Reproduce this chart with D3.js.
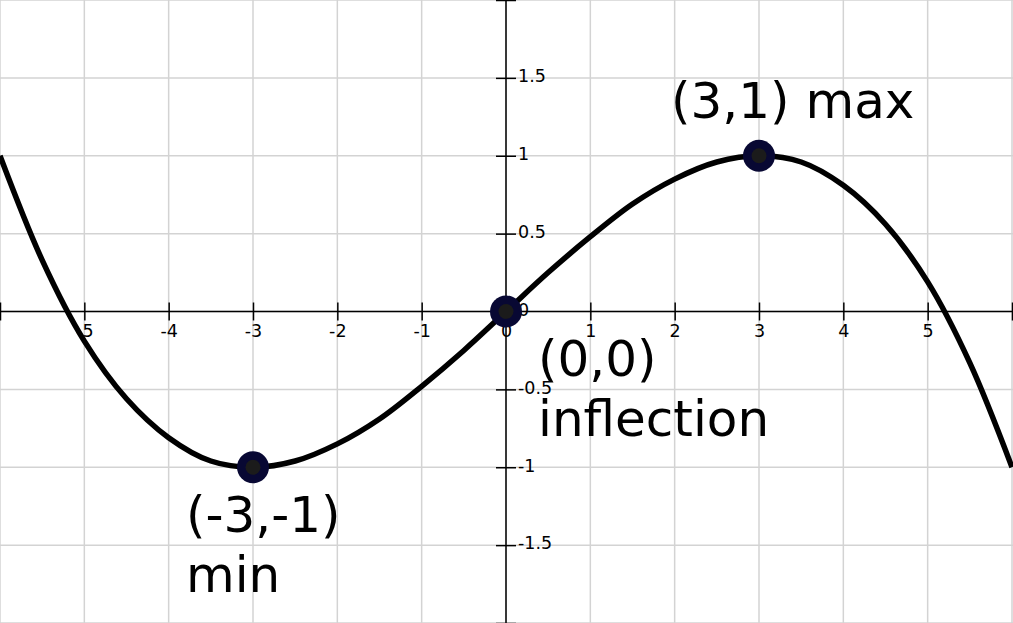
<!DOCTYPE html>
<html>
<head>
<meta charset="utf-8">
<script src="https://cdn.jsdelivr.net/npm/d3@7"></script>
<style>
  html, body { margin: 0; padding: 0; background: #fff; }
  svg { display: block; }
  text { font-family: "DejaVu Sans", sans-serif; }
</style>
</head>
<body>
<svg id="chart" width="1013" height="623"></svg>
<script>
// ---- data ----
const curveX = [-6, -5.5, -5, -4.5, -4, -3.5, -3, -2.5, -2, -1.5, -1, -0.5, 0,
                0.5, 1, 1.5, 2, 2.5, 3, 3.5, 4, 4.5, 5, 5.5, 6];
const curveY = [1, 0.33, -0.19, -0.56, -0.81, -0.96, -1, -0.96, -0.85, -0.69, -0.48, -0.25, 0,
                0.25, 0.48, 0.69, 0.85, 0.96, 1, 0.96, 0.81, 0.56, 0.19, -0.33, -1];

const pointX = [3, 0, -3];
const pointY = [1, 0, -1];
const pointLabels = [["(3,1) max"], ["(0,0)", "inflection"], ["(-3,-1)", "min"]];

const xTicks = [-6, -5, -4, -3, -2, -1, 0, 1, 2, 3, 4, 5, 6];
const xTickLabels = ["", "-5", "-4", "-3", "-2", "-1", "0", "1", "2", "3", "4", "5", ""];
const yTicks = [-2, -1.5, -1, -0.5, 0, 0.5, 1, 1.5, 2];
const yTickLabels = ["", "-1.5", "-1", "-0.5", "0", "0.5", "1", "1.5", ""];

// ---- layout ----
const W = 1013, H = 623;
const svg = d3.select("#chart");
const x = d3.scaleLinear().domain([-6, 6]).range([0, 1012]);
const y = d3.scaleLinear().domain([-2, 2]).range([623, 0]);

// grid
const grid = svg.append("g");
grid.selectAll("line.v").data(xTicks).join("line")
  .attr("x1", d => x(d)).attr("x2", d => x(d))
  .attr("y1", 0).attr("y2", H)
  .attr("stroke", "#d3d3d3").attr("stroke-width", 1.5);
grid.selectAll("line.h").data(yTicks).join("line")
  .attr("x1", 0).attr("x2", W)
  .attr("y1", d => y(d)).attr("y2", d => y(d))
  .attr("stroke", "#d3d3d3").attr("stroke-width", 1.5);

// x axis through y=0
const xAxis = d3.axisBottom(x).tickValues(xTicks).tickSize(9).tickSizeOuter(0)
  .tickFormat((d, i) => xTickLabels[i]);
const gx = svg.append("g").attr("transform", `translate(0,${y(0)})`).call(xAxis);
gx.select(".domain").attr("d", `M0,0H${W}`).attr("stroke", "#000").attr("stroke-width", 1.5);
gx.selectAll(".tick line").attr("y1", -9).attr("y2", 9).attr("stroke", "#000").attr("stroke-width", 1.5);
gx.selectAll(".tick text").attr("y", 0).attr("dy", 25).attr("font-size", 17.5)
  .attr("font-family", "DejaVu Sans").attr("fill", "#000");

// y axis through x=0
const yAxis = d3.axisRight(y).tickValues(yTicks).tickSize(10).tickSizeOuter(0)
  .tickFormat((d, i) => yTickLabels[i]);
const gy = svg.append("g").attr("transform", `translate(${x(0)},0)`).call(yAxis);
gy.select(".domain").attr("d", `M0,0V${H}`).attr("stroke", "#000").attr("stroke-width", 1.5);
gy.selectAll(".tick line").attr("x1", -10).attr("x2", 10).attr("stroke", "#000").attr("stroke-width", 1.5);
gy.selectAll(".tick text").attr("x", 12).attr("dy", "0.22em").attr("font-size", 17.5)
  .attr("font-family", "DejaVu Sans").attr("fill", "#000");

// curve
const pts = curveX.map((d, i) => [d, curveY[i]]);
const line = d3.line().x(d => x(d[0])).y(d => y(d[1])).curve(d3.curveCatmullRom.alpha(0.5));
svg.append("path").datum(pts).attr("d", line)
  .attr("fill", "none").attr("stroke", "#000").attr("stroke-width", 5.5);

// points
const pdata = pointX.map((d, i) => ({ x: d, y: pointY[i], lab: pointLabels[i] }));
svg.selectAll("circle.outer").data(pdata).join("circle")
  .attr("cx", d => x(d.x)).attr("cy", d => y(d.y)).attr("r", 16)
  .attr("fill", "#080833");
svg.selectAll("circle.inner").data(pdata).join("circle")
  .attr("cx", d => x(d.x)).attr("cy", d => y(d.y)).attr("r", 7.5)
  .attr("fill", "#1b1b1b");

// labels
const labelPos = [
  { dx: -88, dy: -38 },   // (3,1) max
  { dx: 32, dy: 64 },     // (0,0) inflection
  { dx: -67, dy: 65 }     // (-3,-1) min
];
pdata.forEach((d, i) => {
  const t = svg.append("text")
    .attr("x", x(d.x) + labelPos[i].dx)
    .attr("y", y(d.y) + labelPos[i].dy)
    .attr("font-size", 50).attr("fill", "#000");
  d.lab.forEach((s, j) => {
    t.append("tspan").attr("x", x(d.x) + labelPos[i].dx).attr("dy", j === 0 ? 0 : 60).text(s);
  });
});
</script>
</body>
</html>
